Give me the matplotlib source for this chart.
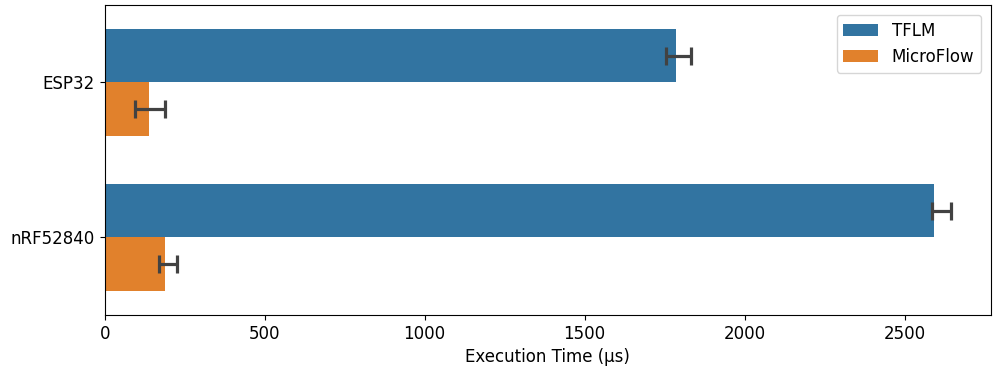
import matplotlib
matplotlib.use("Agg")
import matplotlib.pyplot as plt
import numpy as np

devices = ["ESP32", "nRF52840"]
frameworks = ["TFLM", "MicroFlow"]
means = {"TFLM": [1784, 2591], "MicroFlow": [138, 188]}
err_low = {"TFLM": [1753, 2584], "MicroFlow": [94, 169]}
err_high = {"TFLM": [1831, 2644], "MicroFlow": [190, 225]}
colors = {"TFLM": "#3274a1", "MicroFlow": "#e1812c"}

fig, ax = plt.subplots(figsize=(9.97, 3.74), dpi=100)
fig.subplots_adjust(left=0.105, right=0.994, top=0.987, bottom=0.158)

y = np.arange(len(devices))
h = 0.345
for i, fw in enumerate(frameworks):
    pos = y - h / 2 + i * h
    vals = np.array(means[fw])
    ax.barh(pos, vals, height=h, color=colors[fw], label=fw, edgecolor="none")
    center = (np.array(err_low[fw]) + np.array(err_high[fw])) / 2
    half = (np.array(err_high[fw]) - np.array(err_low[fw])) / 2
    ax.errorbar(center, pos, xerr=half, fmt="none", ecolor="#424242",
                elinewidth=2.3, capsize=6.8, capthick=2.3, zorder=3)

ax.set_yticks(y)
ax.set_yticklabels(devices, fontsize=12)
ax.set_ylim(1.5, -0.5)
ax.set_xlim(0, 2770)
ax.set_xticks([0, 500, 1000, 1500, 2000, 2500])
ax.tick_params(axis="x", labelsize=12)
ax.set_xlabel("Execution Time (μs)", fontsize=12)
ax.legend(loc="upper right", fontsize=12, handlelength=2.1,
          borderaxespad=0.6)

fig.savefig("out.png", dpi=100)
